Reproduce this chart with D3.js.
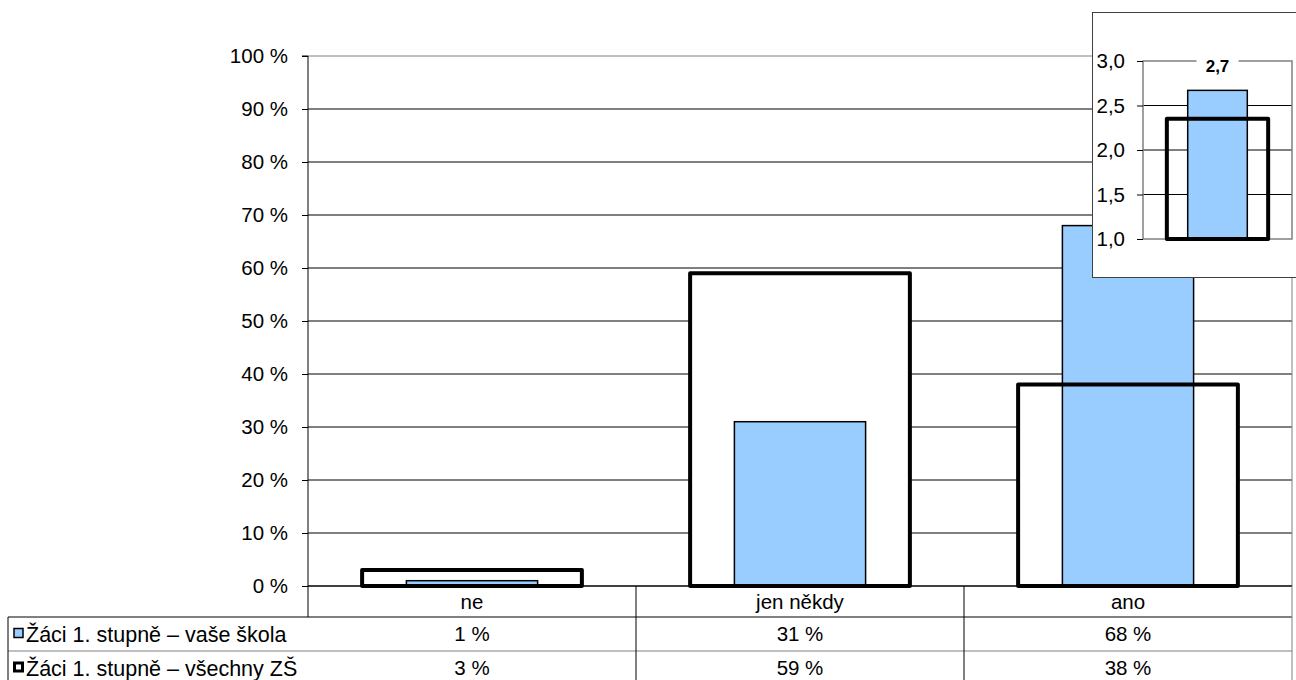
<!DOCTYPE html>
<html>
<head>
<meta charset="utf-8">
<script src="https://cdn.jsdelivr.net/npm/d3@7"></script>
<style>
  body { margin: 0; background: #fff; }
  svg text { font-family: "Liberation Sans", Arial, sans-serif; fill: #000; }
</style>
</head>
<body>
<div id="chart"></div>
<script>
// data
const categories = ["ne", "jen někdy", "ano"];
const seriesNames = ["Žáci 1. stupně – vaše škola", "Žáci 1. stupně – všechny ZŠ"];
const schoolValues = [1, 31, 68];
const allValues = [3, 59, 38];
const yTicks = [0, 10, 20, 30, 40, 50, 60, 70, 80, 90, 100];
const insetSchool = 2.67;
const insetAll = 2.35;
const insetTicks = [1.0, 1.5, 2.0, 2.5, 3.0];

const blueFill = "#99ccff";
const fontSize = 20.5;
const fmtPct = d => d + " %";
const fmtDec = d => d3.format(".1f")(d).replace(".", ",");

const svg = d3.select("#chart").append("svg")
    .attr("width", 1296)
    .attr("height", 680);

const plot = { left: 308, right: 1292, top: 56, bottom: 586 };
const rowTop = [586, 617, 651, 685];

const x = d3.scaleBand().domain(categories).range([plot.left, plot.right]);
const y = d3.scaleLinear().domain([0, 100]).range([plot.bottom, plot.top]);

// gridlines
svg.append("g").selectAll("line")
    .data(yTicks.filter(d => d > 0))
    .enter().append("line")
    .attr("x1", plot.left).attr("x2", plot.right)
    .attr("y1", d => y(d)).attr("y2", d => y(d))
    .attr("stroke", d => d === 100 ? "#808080" : "#000")
    .attr("stroke-width", 1);

// right border of plot
svg.append("line")
    .attr("x1", plot.right).attr("x2", plot.right)
    .attr("y1", plot.top).attr("y2", plot.bottom)
    .attr("stroke", "#808080");

const outerW = x.bandwidth() * 0.67;
const innerW = x.bandwidth() * 0.4;

// outline bars - white background
svg.append("g").selectAll("rect")
    .data(categories)
    .enter().append("rect")
    .attr("x", d => x(d) + (x.bandwidth() - outerW) / 2)
    .attr("y", (d, i) => y(allValues[i]))
    .attr("width", outerW)
    .attr("height", (d, i) => y(0) - y(allValues[i]))
    .attr("fill", "#fff");

// blue bars
svg.append("g").selectAll("rect")
    .data(categories)
    .enter().append("rect")
    .attr("x", d => x(d) + (x.bandwidth() - innerW) / 2)
    .attr("y", (d, i) => y(schoolValues[i]))
    .attr("width", innerW)
    .attr("height", (d, i) => y(0) - y(schoolValues[i]))
    .attr("fill", blueFill)
    .attr("stroke", "#000")
    .attr("stroke-width", 1.5);

// outline bars - stroke on top
svg.append("g").selectAll("rect")
    .data(categories)
    .enter().append("rect")
    .attr("x", d => x(d) + (x.bandwidth() - outerW) / 2)
    .attr("y", (d, i) => y(allValues[i]))
    .attr("width", outerW)
    .attr("height", (d, i) => y(0) - y(allValues[i]))
    .attr("fill", "none")
    .attr("stroke", "#000")
    .attr("stroke-width", 4)
    .attr("stroke-linejoin", "round");

// y axis
const yAxis = svg.append("g")
    .attr("transform", `translate(${plot.left},0)`)
    .call(d3.axisLeft(y).tickValues(yTicks).tickFormat(fmtPct).tickSize(6).tickPadding(14));
yAxis.attr("font-size", null).attr("font-family", null);
yAxis.select(".domain").attr("stroke", "#000").attr("d", `M-6,${plot.top}H0V${rowTop[1]}`);
yAxis.selectAll(".tick line").attr("stroke", "#000");
yAxis.selectAll(".tick text").attr("font-size", fontSize).attr("fill", "#000");

// data table
const table = svg.append("g");
table.append("line")
    .attr("x1", plot.left).attr("x2", plot.right)
    .attr("y1", rowTop[0]).attr("y2", rowTop[0])
    .attr("stroke", "#000").attr("stroke-width", 1.5);
table.append("line")
    .attr("x1", 8).attr("x2", plot.right)
    .attr("y1", rowTop[1]).attr("y2", rowTop[1])
    .attr("stroke", "#000");
table.append("line")
    .attr("x1", 8).attr("x2", plot.right)
    .attr("y1", rowTop[2]).attr("y2", rowTop[2])
    .attr("stroke", "#808080");
table.append("line")
    .attr("x1", 8).attr("x2", 8)
    .attr("y1", rowTop[1]).attr("y2", rowTop[3])
    .attr("stroke", "#000");
table.append("line")
    .attr("x1", plot.right).attr("x2", plot.right)
    .attr("y1", rowTop[0]).attr("y2", rowTop[3])
    .attr("stroke", "#808080");
table.selectAll(".vsep")
    .data(categories.slice(1))
    .enter().append("line")
    .attr("class", "vsep")
    .attr("x1", d => x(d)).attr("x2", d => x(d))
    .attr("y1", rowTop[0]).attr("y2", rowTop[3])
    .attr("stroke", "#000");

table.selectAll(".cat")
    .data(categories)
    .enter().append("text")
    .attr("class", "cat")
    .attr("x", d => x(d) + x.bandwidth() / 2)
    .attr("y", (rowTop[0] + rowTop[1]) / 2)
    .attr("dy", "0.35em")
    .attr("text-anchor", "middle")
    .attr("font-size", fontSize)
    .text(d => d);

[schoolValues, allValues].forEach((vals, r) => {
    table.selectAll(".row" + r)
        .data(categories)
        .enter().append("text")
        .attr("x", d => x(d) + x.bandwidth() / 2)
        .attr("y", (rowTop[r + 1] + rowTop[r + 2]) / 2)
        .attr("dy", "0.35em")
        .attr("text-anchor", "middle")
        .attr("font-size", fontSize)
        .text((d, i) => fmtPct(vals[i]));
});

// legend keys
seriesNames.forEach((name, r) => {
    const cy = (rowTop[r + 1] + rowTop[r + 2]) / 2 - 1;
    if (r === 0) {
        table.append("rect")
            .attr("x", 14).attr("y", cy - 4.5).attr("width", 9).attr("height", 9)
            .attr("fill", blueFill).attr("stroke", "#000").attr("stroke-width", 1.5);
    } else {
        table.append("rect")
            .attr("x", 14.5).attr("y", cy - 4).attr("width", 8).attr("height", 8)
            .attr("fill", "#fff").attr("stroke", "#000").attr("stroke-width", 3);
    }
    table.append("text")
        .attr("x", 26)
        .attr("y", cy + 1)
        .attr("dy", "0.35em")
        .attr("font-size", 21.5)
        .text(name);
});

// inset chart
const inset = svg.append("g");
inset.append("rect")
    .attr("x", 1092.5).attr("y", 12.5).attr("width", 220).attr("height", 265)
    .attr("fill", "#fff").attr("stroke", "#404040");

const ip = { left: 1143, right: 1292, top: 61, bottom: 239 };
const ix = d3.scaleBand().domain(["all"]).range([ip.left, ip.right]);
const iy = d3.scaleLinear().domain([1, 3]).range([ip.bottom, ip.top]);

inset.selectAll(".igrid")
    .data(insetTicks.filter(d => d > 1 && d < 3))
    .enter().append("line")
    .attr("x1", ip.left).attr("x2", ip.right)
    .attr("y1", d => iy(d)).attr("y2", d => iy(d))
    .attr("stroke", "#000");
inset.append("path")
    .attr("d", `M${ip.left},${ip.bottom}V${ip.top}H${ip.right}V${ip.bottom}Z`)
    .attr("fill", "none")
    .attr("stroke", "#808080")
    .attr("stroke-width", 1.5);

const iOuterW = ix.bandwidth() * 0.68;
const iInnerW = ix.bandwidth() * 0.4;
inset.append("rect")
    .attr("x", ix("all") + (ix.bandwidth() - iInnerW) / 2)
    .attr("y", iy(insetSchool))
    .attr("width", iInnerW)
    .attr("height", iy(1) - iy(insetSchool))
    .attr("fill", blueFill).attr("stroke", "#000").attr("stroke-width", 1.5);
inset.append("rect")
    .attr("x", ix("all") + (ix.bandwidth() - iOuterW) / 2)
    .attr("y", iy(insetAll))
    .attr("width", iOuterW)
    .attr("height", iy(1) - iy(insetAll))
    .attr("fill", "none").attr("stroke", "#000").attr("stroke-width", 4)
    .attr("stroke-linejoin", "round");

// value label with white background
const lblX = ix("all") + ix.bandwidth() / 2;
inset.append("rect")
    .attr("x", lblX - 21).attr("y", ip.top - 5).attr("width", 42).attr("height", 20)
    .attr("fill", "#fff");
inset.append("text")
    .attr("x", lblX).attr("y", ip.top + 11)
    .attr("text-anchor", "middle")
    .attr("font-size", 17)
    .attr("font-weight", "bold")
    .text(fmtDec(insetSchool));

const iAxis = inset.append("g")
    .attr("transform", `translate(${ip.left},0)`)
    .call(d3.axisLeft(iy).tickValues(insetTicks).tickFormat(fmtDec).tickSize(6).tickPadding(12));
iAxis.attr("font-size", null).attr("font-family", null);
iAxis.select(".domain").remove();
iAxis.selectAll(".tick line").attr("stroke", "#000");
iAxis.selectAll(".tick text").attr("font-size", fontSize).attr("fill", "#000");
</script>
</body>
</html>
